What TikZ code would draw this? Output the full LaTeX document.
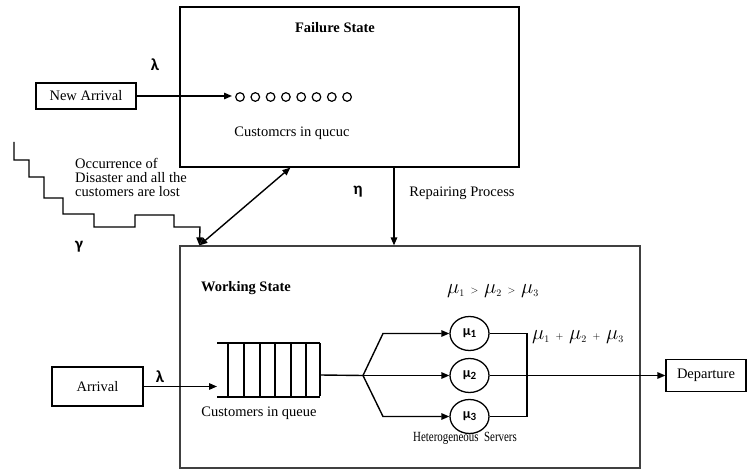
\documentclass[tikz,border=0pt]{standalone}
\usepackage{fontspec}
\setmainfont{Liberation Serif}
\newfontfamily\greekfont{Carlito}
\usetikzlibrary{arrows.meta,shapes.geometric}
\tikzset{
  every picture/.style={line join=miter, >={Triangle[length=8pt,width=6.5pt]}},
  box/.style={draw, line width=1.2pt, inner sep=0pt},
  flow/.style={line width=1.4pt},
  server/.style={ellipse, draw, line width=1.3pt, minimum width=39pt, minimum height=34pt, inner sep=0pt,
    font=\greekfont\bfseries\fontsize{14}{14}\selectfont},
  greek/.style={font=\greekfont\bfseries\fontsize{17}{17}\selectfont},
  txt/.style={font=\fontsize{14.5}{14}\selectfont, inner sep=0pt},
  title/.style={font=\bfseries\fontsize{14.5}{14}\selectfont, inner sep=0pt},
  rate/.style={font=\fontsize{20}{20}\selectfont, inner sep=0pt},
}
\newcommand{\srv}[1]{μ\raisebox{-1.5pt}{\fontsize{11}{11}\selectfont #1}}
\begin{document}
\begin{tikzpicture}[x=1pt,y=-1pt]
\useasboundingbox (0,0) rectangle (747,470);
% the two states
\node[box, minimum width=339pt, minimum height=160pt] (fail) at (349.5,87) {};
\node[box, draw=black!75, minimum width=460pt, minimum height=222pt] (work) at (410,357) {};
\node[title] (failt) at (335,28) {Failure State};
\node[title] (workt) at (246,288) {Working State};
% failure state
\node[box, minimum width=100pt, minimum height=26pt] (newarr) at (86,96) {\fontsize{14.5}{14}\selectfont New Arrival};
\node[greek] (lamtop) at (155,65) {λ};
\coordinate (dots) at (232,96);
\draw[flow,->] (newarr.east) -- (dots);
\foreach \i in {0,...,7}
  \draw[line width=1.2pt] (240+\i*15.3,97) circle[radius=4.3pt];
\node[txt] (failq) at (292,133) {Customcrs in qucuc};
% disaster and repair
\node[txt, align=left, anchor=north west] (dis) at (75,158) {Occurrence of\\Disaster and all the\\customers are lost};
\node[greek] (gam) at (79,247) {γ};
\coordinate (hitw) at ([xshift=20pt]work.north west);
\coordinate (hitf) at ([xshift=111pt]fail.south west);
\draw[flow,->] (14,142) |- (29,160) |- (44,177) |- (63,198) |- (94,214) |- (135,227)
  |- (174,215) |- (200,227) -- (hitw);
\draw[flow,<->] (hitw) -- (hitf);
\node[greek] (eta) at (358,192) {η};
\coordinate (rp) at (394,0);
\draw[flow,->] (rp |- fail.south) -- (rp |- work.north);
\node[txt] (rep) at (462,193) {Repairing Process};
% working state
\node[box, minimum width=91pt, minimum height=39pt] (arr) at (97.5,386.5) {\fontsize{14.5}{14}\selectfont Arrival};
\node[greek] (lambot) at (160,377) {λ};
\coordinate (qin) at (217,386.5);
\draw[flow,->] (arr.east) -- (qin);
\draw[line width=1.2pt] (217,343) -- (320,343) (217,397) -- (320,397);
\foreach \x in {228,244,260,275,291,306,320}
  \draw[line width=1.2pt] (\x,343) -- (\x,396);
\node[txt] (workq) at (259,413) {Customers in queue};
\coordinate (qout) at (320,375);
\coordinate (split) at (363,375.5);
\node[server] (s1) at (469.5,333.5) {\srv{1}};
\node[server] (s2) at (469.5,375.5) {\srv{2}};
\node[server] (s3) at (469.5,416.5) {\srv{3}};
\draw[flow] (qout) -- (split);
\draw[flow,->] (split) -- ++(20,-42) -- (s1.west);
\draw[flow,->] (split) -- (s2.west);
\draw[flow,->] (split) -- ++(20,41) -- (s3.west);
\draw[flow] (s1.east) -- ++(37.5,0) |- (s3.east);
\node[box, minimum width=80pt, minimum height=32pt] (dep) at (706,375.5) {\fontsize{14.5}{14}\selectfont Departure};
\draw[flow,->] (s2.east) -- (dep.west);
\node[txt, xscale=0.78, font=\fontsize{14}{14}\selectfont] (het) at (465,438) {Heterogeneous\ \ Servers};
\node[rate] (order) at (493,291) {$\mu_{\scriptscriptstyle 1}\;{\scriptscriptstyle >}\;\mu_{\scriptscriptstyle 2}\;{\scriptscriptstyle >}\;\mu_{\scriptscriptstyle 3}$};
\node[rate] (total) at (578,337) {$\mu_{\scriptscriptstyle 1}\;{\scriptscriptstyle +}\;\mu_{\scriptscriptstyle 2}\;{\scriptscriptstyle +}\;\mu_{\scriptscriptstyle 3}$};
\end{tikzpicture}
\end{document}
